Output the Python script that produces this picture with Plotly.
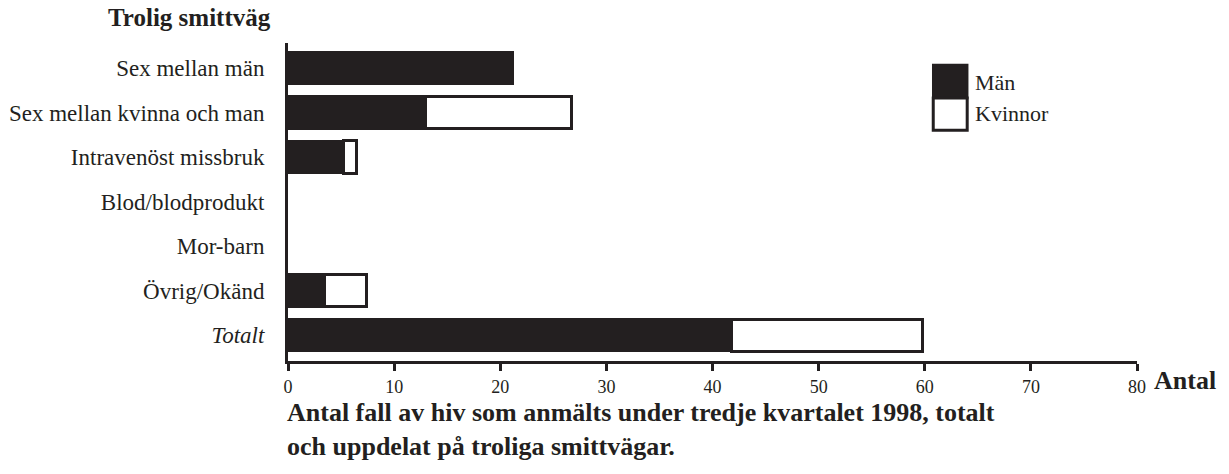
import plotly.graph_objects as go

categories = ["Sex mellan män", "Sex mellan kvinna och man", "Intravenöst missbruk",
              "Blod/blodprodukt", "Mor-barn", "Övrig/Okänd", "<i>Totalt</i>"]
man = [21.2, 13.0, 5.2, 0, 0, 3.4, 41.8]
kvinnor = [0, 13.7, 1.3, 0, 0, 4.0, 18.0]
x_ticks = [0, 10, 20, 30, 40, 50, 60, 70, 80]

FONT = "Liberation Serif"
INK = "#231f20"
pos = list(range(len(categories)))

fig = go.Figure()
fig.add_trace(go.Bar(y=pos, x=man, orientation="h", name="Män", width=0.72,
                     marker=dict(color=INK, line=dict(color=INK,
                                 width=[2.5 if v > 0 else 0 for v in man]))))
fig.add_trace(go.Bar(y=pos, x=kvinnor, orientation="h", name="Kvinnor", width=0.72,
                     marker=dict(color="white", line=dict(color=INK,
                                 width=[3 if v > 0 else 0 for v in kvinnor]))))

fig.update_layout(
    barmode="stack",
    width=1229, height=474,
    margin=dict(l=288, r=92, t=43, b=113),
    paper_bgcolor="white", plot_bgcolor="white",
    showlegend=False,
    font=dict(family=FONT, color=INK),
    xaxis=dict(range=[0, 80], tickvals=x_ticks, showgrid=False, zeroline=False,
               showline=True, linecolor=INK, linewidth=3, automargin=False,
               ticks="outside", ticklen=7, tickwidth=3, tickcolor=INK,
               tickfont=dict(family=FONT, size=18, color=INK)),
    yaxis=dict(range=[6.58, -0.56], tickvals=pos, ticktext=categories,
               showgrid=False, zeroline=False, showline=True, linecolor=INK,
               linewidth=3, ticks="", ticklabelstandoff=16, automargin=False,
               tickfont=dict(family=FONT, size=23, color=INK)),
)

# Legend drawn as boxes
fig.add_shape(type="rect", xref="paper", yref="paper", x0=0.760, x1=0.800, y0=0.827, y1=0.931,
              fillcolor=INK, line=dict(color=INK, width=2.5))
fig.add_shape(type="rect", xref="paper", yref="paper", x0=0.760, x1=0.800, y0=0.726, y1=0.827,
              fillcolor="white", line=dict(color=INK, width=3))
fig.add_annotation(xref="paper", yref="paper", x=0.807, y=0.877, text="Män", showarrow=False,
                   xanchor="left", yanchor="middle", font=dict(family=FONT, size=22, color=INK))
fig.add_annotation(xref="paper", yref="paper", x=0.807, y=0.777, text="Kvinnor", showarrow=False,
                   xanchor="left", yanchor="middle", font=dict(family=FONT, size=22, color=INK))

fig.add_annotation(xref="paper", yref="paper", x=-0.018, y=1.079, text="<b>Trolig smittväg</b>",
                   showarrow=False, xanchor="right", yanchor="middle",
                   font=dict(family=FONT, size=25, color=INK))
fig.add_annotation(xref="paper", yref="paper", x=1.018, y=-0.06, text="<b>Antal</b>",
                   showarrow=False, xanchor="left", yanchor="middle",
                   font=dict(family=FONT, size=26, color=INK))
fig.add_annotation(xref="paper", yref="paper", x=-0.003, y=-0.11,
                   text="<b>Antal fall av hiv som anmälts under tredje kvartalet 1998, totalt<br>och uppdelat på troliga smittvägar.</b>",
                   showarrow=False, xanchor="left", yanchor="top", align="left",
                   font=dict(family=FONT, size=26, color=INK))

fig.write_html("out.html", config={"displayModeBar": False},
               post_script="document.body.style.margin='0px';")
